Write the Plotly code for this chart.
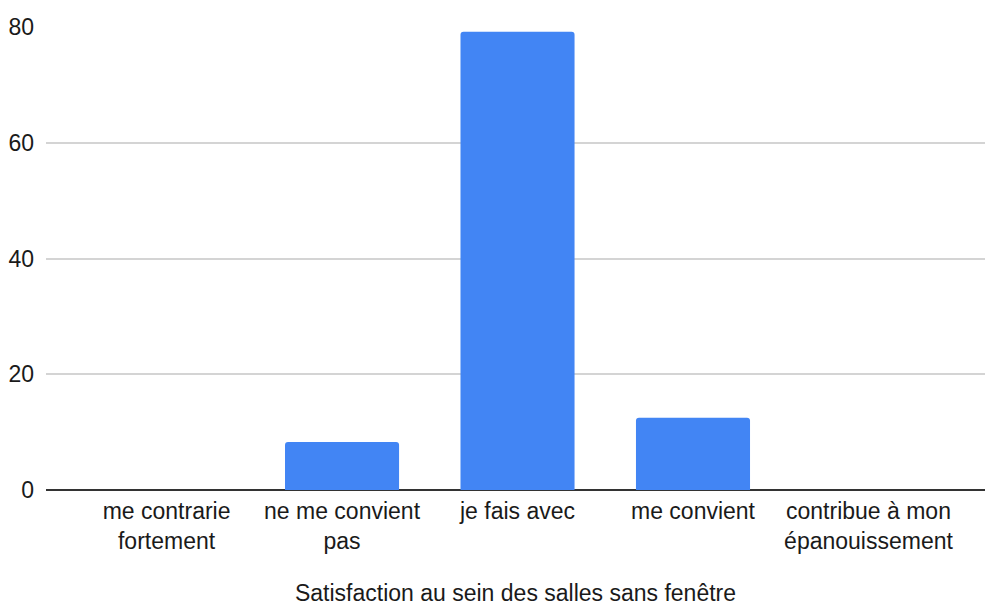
import plotly.graph_objects as go

categories = ["me contrarie<br>fortement", "ne me convient<br>pas", "je fais avec",
              "me convient", "contribue à mon<br>épanouissement"]
values = [0, 8.3, 79.2, 12.5, 0]
y_ticks = [0, 20, 40, 60, 80]

fig = go.Figure(go.Bar(
    x=list(range(len(categories))), y=values,
    marker=dict(color="#4285F4", line=dict(width=0), cornerradius=3),
    width=0.65,
))

font = dict(family="Liberation Sans, Arial, sans-serif", size=23, color="#1a1a1a")

fig.update_layout(
    width=989, height=608,
    margin=dict(l=46, r=4, t=27, b=118),
    plot_bgcolor="white", paper_bgcolor="white",
    font=font,
    showlegend=False,
    xaxis=dict(
        range=[-0.687, 4.664],
        tickmode="array", tickvals=list(range(len(categories))), ticktext=categories,
        showgrid=False, zeroline=False, showline=False, ticks="",
        ticklabelstandoff=5, automargin=True,
        title=dict(text="Satisfaction au sein des salles sans fenêtre", standoff=31,
                   font=dict(size=23, color="#1a1a1a")),
    ),
    yaxis=dict(
        range=[0, 80], tickmode="array", tickvals=y_ticks,
        showgrid=True, gridcolor="#d4d4d4", gridwidth=1.5,
        zeroline=True, zerolinecolor="#333333", zerolinewidth=1.5,
        showline=False, ticks="", ticklabelstandoff=11, automargin=False,
    ),
)

fig.write_html("out.html", config={"displayModeBar": False},
               post_script="document.body.style.margin='0';document.body.style.overflow='hidden';")
